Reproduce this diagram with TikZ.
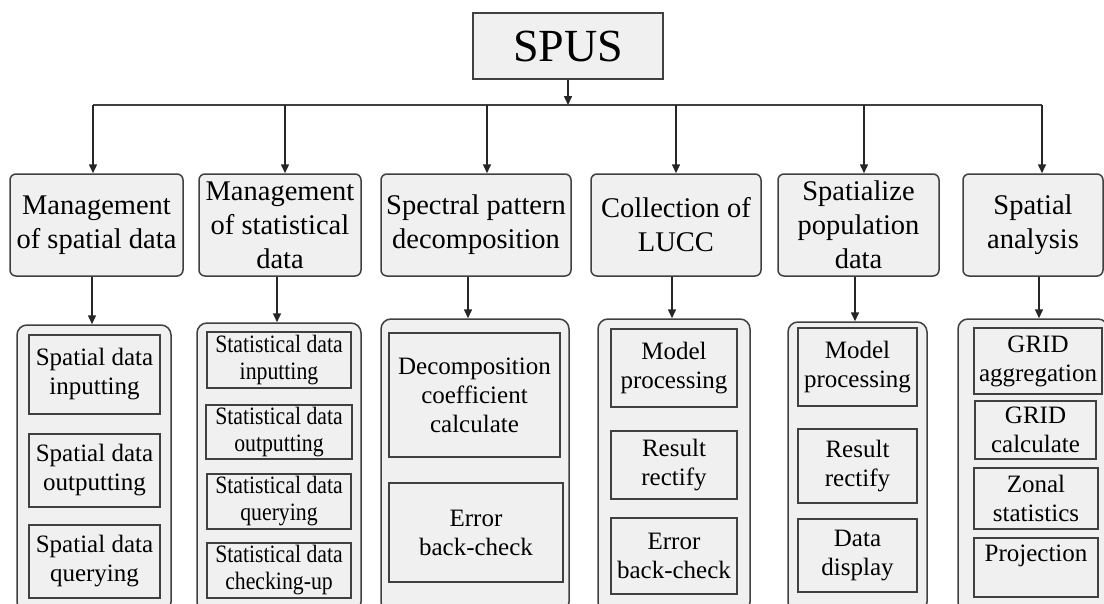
\documentclass[tikz,border=0pt]{standalone}
\usepackage{fontspec}
\setmainfont{Liberation Serif}
\newfontfamily\narrowserif[FakeStretch=0.87]{Liberation Serif}
\usetikzlibrary{arrows.meta}
\definecolor{boxfill}{HTML}{F0F0F0}
\definecolor{edge}{HTML}{404040}
\tikzset{
  rootbox/.style={draw=edge, line width=1.5pt, fill=boxfill, inner sep=0pt, font=\fontsize{46}{50}\selectfont},
  topbox/.style={draw=edge, line width=1.5pt, fill=boxfill, rounded corners=6pt, align=center, inner sep=0pt, font=\fontsize{28.5}{34}\selectfont},
  groupbox/.style={draw=edge, line width=1.5pt, fill=boxfill, rounded corners=10pt, inner sep=0pt},
  ibox/.style={draw=edge, line width=1.8pt, fill=boxfill, align=center, inner sep=0pt, font=\fontsize{25}{29}\selectfont},
  sbox/.style={ibox, font=\narrowserif\fontsize{25}{27}\selectfont},
  arr/.style={-{Triangle[length=9pt,width=8pt]}, line width=1.5pt, draw=black!85},
  busline/.style={line width=1.5pt, draw=black!75},
}
\begin{document}
\begin{tikzpicture}[x=1pt,y=-1pt]
\useasboundingbox (0,0) rectangle (1104,603);
\clip (0,0) rectangle (1104,603);
\fill[white] (0,0) rectangle (1104,603);

% root
\node[rootbox, minimum width=190pt, minimum height=66pt] (spus) at (568,46) {SPUS};

% top-level boxes
\node[topbox, minimum width=173pt, minimum height=102pt] (t1) at (96.5,225) {Management\\of spatial data};
\node[topbox, minimum width=162pt, minimum height=102pt] (t2) at (280,225) {Management\\of statistical\\data};
\node[topbox, minimum width=190pt, minimum height=102pt] (t3) at (476,225) {Spectral pattern\\decomposition};
\node[topbox, minimum width=170pt, minimum height=102pt] (t4) at (676,225) {Collection of\\LUCC};
\node[topbox, minimum width=161pt, minimum height=102pt] (t5) at (858.5,225) {Spatialize\\population\\data};
\node[topbox, minimum width=140pt, minimum height=102pt] (t6) at (1033,225) {Spatial\\analysis};

% groups
\node[groupbox, minimum width=154pt, minimum height=287pt] (g1) at (94,468.5) {};
\node[groupbox, minimum width=164pt, minimum height=289pt] (g2) at (279,467.5) {};
\node[groupbox, minimum width=188pt, minimum height=293pt] (g3) at (475,465.5) {};
\node[groupbox, minimum width=152pt, minimum height=293pt] (g4) at (674,465.5) {};
\node[groupbox, minimum width=139pt, minimum height=290pt] (g5) at (857.5,467) {};
\node[groupbox, minimum width=150pt, minimum height=293pt] (g6) at (1033,465.5) {};

% group 1
\node[ibox, minimum width=131pt, minimum height=79pt] (g1a) at (94.5,374.5) {Spatial data\\inputting};
\node[ibox, minimum width=131pt, minimum height=73pt] (g1b) at (94.5,470.5) {Spatial data\\outputting};
\node[ibox, minimum width=131pt, minimum height=73pt] (g1c) at (94.5,561.5) {Spatial data\\querying};

% group 2
\node[sbox, minimum width=144pt, minimum height=56pt] (g2a) at (279,360) {Statistical data\\inputting};
\node[sbox, minimum width=146pt, minimum height=54pt] (g2b) at (279,432) {Statistical data\\outputting};
\node[sbox, minimum width=144pt, minimum height=55pt] (g2c) at (279,501.5) {Statistical data\\querying};
\node[sbox, minimum width=144pt, minimum height=55pt] (g2d) at (279,570.5) {Statistical data\\checking-up};

% group 3
\node[ibox, minimum width=171pt, minimum height=124pt] (g3a) at (474.5,395) {Decomposition\\coefficient\\calculate};
\node[ibox, minimum width=174pt, minimum height=99pt] (g3b) at (476,532.5) {Error\\back-check};

% group 4
\node[ibox, minimum width=126pt, minimum height=78pt] (g4a) at (674,368) {Model\\processing};
\node[ibox, minimum width=126pt, minimum height=68pt] (g4b) at (674,465) {Result\\rectify};
\node[ibox, minimum width=126pt, minimum height=76pt] (g4c) at (674,556) {Error\\back-check};

% group 5
\node[ibox, minimum width=119pt, minimum height=78pt] (g5a) at (857.5,367) {Model\\processing};
\node[ibox, minimum width=119pt, minimum height=74pt] (g5b) at (857.5,466) {Result\\rectify};
\node[ibox, minimum width=119pt, minimum height=73pt] (g5c) at (857.5,555.5) {Data\\display};

% group 6
\node[ibox, minimum width=128pt, minimum height=66pt] (g6a) at (1038,361) {GRID\\aggregation};
\node[ibox, minimum width=121pt, minimum height=58pt] (g6b) at (1035.5,430) {GRID\\calculate};
\node[ibox, minimum width=124pt, minimum height=61pt] (g6c) at (1036,498.5) {Zonal\\statistics};
\node[ibox, minimum width=124pt, minimum height=59pt] (g6d) at (1036,567.5) {Projection\\\mbox{}};

% bus
\coordinate (b1) at (93,105);
\coordinate (b2) at (285,105);
\coordinate (b3) at (487,105);
\coordinate (b4) at (676,105);
\coordinate (b5) at (864,105);
\coordinate (b6) at (1042,105);
\draw[arr] (spus.south) -- (spus.south |- b1);
\draw[busline] (b1) -- (b6);
\draw[arr] (b1) -- (b1 |- t1.north);
\draw[arr] (b2) -- (b2 |- t2.north);
\draw[arr] (b3) -- (b3 |- t3.north);
\draw[arr] (b4) -- (b4 |- t4.north);
\draw[arr] (b5) -- (b5 |- t5.north);
\draw[arr] (b6) -- (b6 |- t6.north);

% second tier
\coordinate (d1) at (92,300);
\coordinate (d2) at (277,300);
\coordinate (d3) at (468,300);
\coordinate (d4) at (672,300);
\coordinate (d5) at (855,300);
\coordinate (d6) at (1039,300);
\draw[arr] (d1 |- t1.south) -- (d1 |- g1.north);
\draw[arr] (d2 |- t2.south) -- (d2 |- g2.north);
\draw[arr] (d3 |- t3.south) -- (d3 |- g3.north);
\draw[arr] (d4 |- t4.south) -- (d4 |- g4.north);
\draw[arr] (d5 |- t5.south) -- (d5 |- g5.north);
\draw[arr] (d6 |- t6.south) -- (d6 |- g6.north);
\end{tikzpicture}
\end{document}
